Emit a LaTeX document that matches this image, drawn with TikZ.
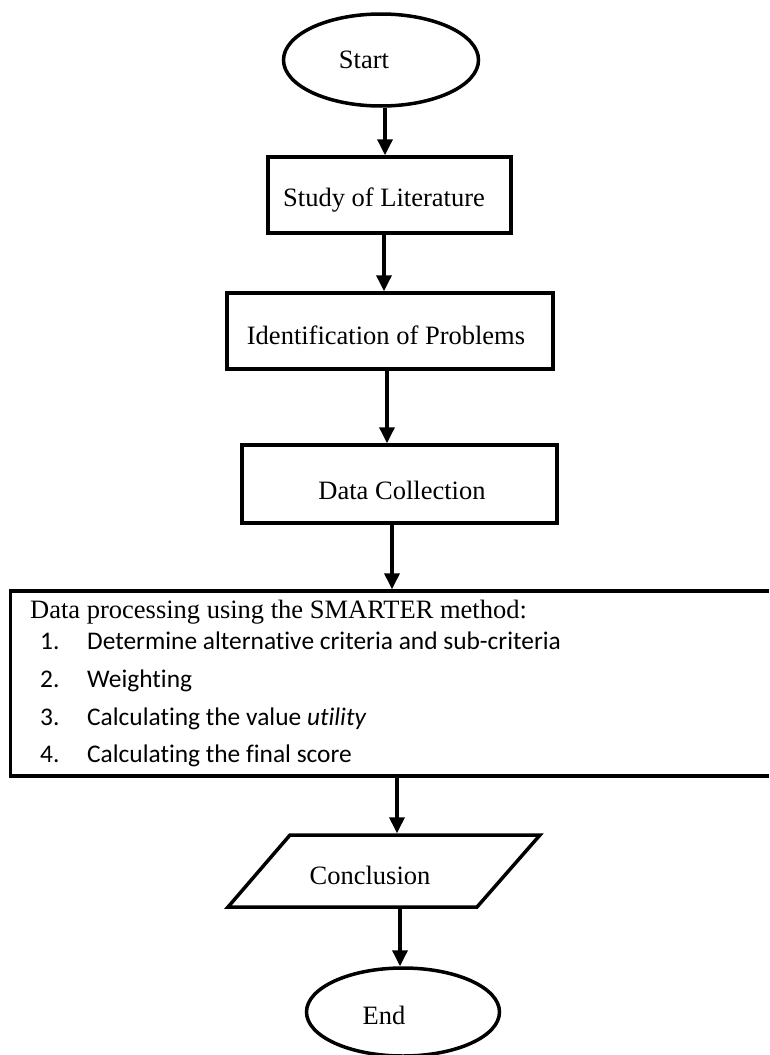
\documentclass[tikz,border=0pt]{standalone}
\usepackage{fontspec}
\setmainfont{Liberation Serif}
\newfontfamily\calibri[RawFeature=-liga]{Carlito}
\usetikzlibrary{shapes.geometric,arrows.meta}
\begin{document}
\begin{tikzpicture}[x=1pt,y=-1pt,
  shapeline/.style={draw=black, line width=3.5pt},
  boxnode/.style={rectangle, shapeline, inner sep=0pt},
  ovalnode/.style={ellipse, shapeline, inner sep=0pt},
  lbl/.style={font=\fontsize{26.5}{30}\selectfont, inner sep=0pt, anchor=base},
  itemtext/.style={font=\calibri\fontsize{25.4}{29}\selectfont, inner sep=0pt, anchor=base west},
  arr/.style={line width=3.5pt, -{Triangle[width=15pt,length=16pt]}},
]
\useasboundingbox (0,0) rectangle (769,1055);

% shapes
\node[ovalnode, minimum width=195pt, minimum height=92pt] (start) at (381,60) {};
\node[boxnode, minimum width=243pt, minimum height=76pt] (study) at (389.5,195) {};
\node[boxnode, minimum width=326pt, minimum height=76pt] (ident) at (390,331) {};
\node[boxnode, minimum width=315pt, minimum height=78pt] (dc) at (399.5,484) {};
\node[inner sep=0pt, minimum width=760pt, minimum height=185pt] (smarter) at (389,682) {};
\draw[shapeline] (smarter.north east) ++(0,1.5) -| ([xshift=1.5pt,yshift=-1.5pt]smarter.south west) -- ([yshift=-1.5pt]smarter.south east);
\node[inner sep=0pt, minimum width=312pt, minimum height=75pt] (concl) at (384,871) {};
\draw[shapeline] (290,835) -- (540,835) -- (477,907) -- (228,907) -- cycle;
\node[ovalnode, minimum width=193pt, minimum height=88pt] (end) at (403,1012) {};

% labels
\node[lbl] (tstart) at (364,68) {Start};
\node[lbl] (tstudy) at (384,206) {Study of Literature};
\node[lbl] (tident) at (386,344) {Identification of Problems};
\node[lbl] (tdc) at (402,499) {Data Collection};
\node[lbl, anchor=base west] (tproc) at (30,618) {Data processing using the SMARTER method:};
\node[itemtext] (n1) at (40,649) {1.};
\node[itemtext] (i1) at (87,649) {Determine alternative criteria and sub-criteria};
\node[itemtext] (n2) at (40,687) {2.};
\node[itemtext] (i2) at (87,687) {Weighting};
\node[itemtext] (n3) at (40,725) {3.};
\node[itemtext] (i3) at (87,725) {Calculating the value \textit{utility}};
\node[itemtext] (n4) at (40,762) {4.};
\node[itemtext] (i4) at (87,762) {Calculating the final score};
\node[lbl] (tconcl) at (370,884) {Conclusion};
\node[lbl] (tend) at (384,1024) {End};

% arrow x positions
\coordinate (a1) at (385,0);
\coordinate (a2) at (384,0);
\coordinate (a3) at (387,0);
\coordinate (a4) at (392,0);
\coordinate (a5) at (397,0);
\coordinate (a6) at (400,0);

\draw[arr] (start.south -| a1) -- (study.north -| a1);
\draw[arr] (study.south -| a2) -- (ident.north -| a2);
\draw[arr] (ident.south -| a3) -- (dc.north -| a3);
\draw[arr] (dc.south -| a4) -- (smarter.north -| a4);
\draw[arr] (smarter.south -| a5) -- (concl.north -| a5);
\draw[arr] (concl.south -| a6) -- (end.north -| a6);
\end{tikzpicture}
\end{document}
